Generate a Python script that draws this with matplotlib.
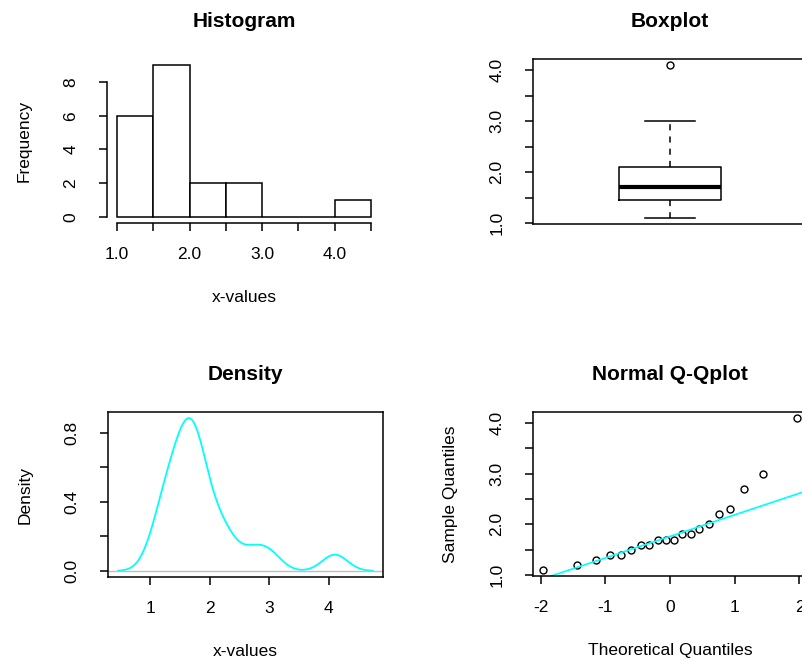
import numpy as np
import matplotlib
matplotlib.use("Agg")
import matplotlib.pyplot as plt
from statistics import NormalDist

x_values = [1.1, 1.2, 1.3, 1.4, 1.4, 1.5, 1.6, 1.6, 1.7, 1.7,
            1.7, 1.8, 1.8, 1.9, 2.0, 2.2, 2.3, 2.7, 3.0, 4.1]

hist_breaks = [1.0, 1.5, 2.0, 2.5, 3.0, 3.5, 4.0, 4.5]
hist_ticklabels = ["1.0", "", "2.0", "", "3.0", "", "4.0", ""]
freq_ticks = [0, 2, 4, 6, 8]
box_ticks = [1.0, 1.5, 2.0, 2.5, 3.0, 3.5, 4.0]
box_ticklabels = ["1.0", "", "2.0", "", "3.0", "", "4.0"]
dens_xticks = [1, 2, 3, 4]
dens_yticks = [0.0, 0.2, 0.4, 0.6, 0.8]
dens_yticklabels = ["0.0", "", "0.4", "", "0.8"]
qq_xticks = [-2, -1, 0, 1, 2]

plt.rcParams['font.family'] = ['Liberation Sans', 'DejaVu Sans']
plt.rcParams['axes.unicode_minus'] = False

W, H = 802, 660
LW = 1.1
CYAN = "#00FFFF"


def r_range(lo, hi):
    # R's default 4% axis expansion
    d = (hi - lo) * 0.04
    return lo - d, hi + d


def fivenum(x):
    x = np.sort(np.asarray(x, float))
    n = len(x)
    n4 = np.floor((n + 3) / 2) / 2
    d = np.array([1, n4, (n + 1) / 2, n + 1 - n4, n])
    return 0.5 * (x[np.floor(d).astype(int) - 1] + x[np.ceil(d).astype(int) - 1])


def r_density(x, n=512):
    x = np.asarray(x, float)
    iqr = np.percentile(x, 75) - np.percentile(x, 25)
    bw = 0.9 * min(x.std(ddof=1), iqr / 1.34) * len(x) ** -0.2
    grid = np.linspace(x.min() - 3 * bw, x.max() + 3 * bw, n)
    z = (grid[:, None] - x[None, :]) / bw
    dens = np.exp(-0.5 * z ** 2).sum(axis=1) / (len(x) * bw * np.sqrt(2 * np.pi))
    return grid, dens


def panel(left, top, right, bottom):
    return fig.add_axes([left / W, 1 - bottom / H, (right - left) / W, (bottom - top) / H])


def r_style(ax):
    for s in ax.spines.values():
        s.set_linewidth(LW)
    ax.tick_params(direction='out', length=5.5, width=LW, labelsize=12.5)
    ax.tick_params(axis='x', pad=12)
    ax.tick_params(axis='y', labelrotation=90, pad=15)


def center_yticklabels(ax):
    plt.setp(ax.get_yticklabels(), va='center')


def r_labels(ax, title, xlabel, ylabel):
    ax.set_title(title, fontweight='bold', fontsize=15, pad=23)
    ax.set_xlabel(xlabel, fontsize=12.5, labelpad=20)
    ax.set_ylabel(ylabel, fontsize=12.5, labelpad=23)


fig = plt.figure(figsize=(W / 100, H / 100), dpi=100)

# ---- Histogram (right-closed bins like R)
ax = panel(107, 59, 381, 223)
r_style(ax)
edges = np.array(hist_breaks)
idx = np.clip(np.searchsorted(edges, x_values, side='left'), 1, len(edges) - 1)
counts = np.bincount(idx - 1, minlength=len(edges) - 1)
ax.bar(edges[:-1], counts, width=np.diff(edges), align='edge',
       facecolor='white', edgecolor='black', linewidth=LW)
ax.set_xlim(*r_range(edges[0], edges[-1]))
ax.set_ylim(*r_range(0, counts.max()))
ax.set_xticks(hist_breaks)
ax.set_xticklabels(hist_ticklabels)
ax.set_yticks(freq_ticks)
ax.spines['top'].set_visible(False)
ax.spines['right'].set_visible(False)
ax.spines['left'].set_bounds(freq_ticks[0], freq_ticks[-1])
ax.spines['bottom'].set_bounds(edges[0], edges[-1])
center_yticklabels(ax)
r_labels(ax, "Histogram", "x-values", "Frequency")

# ---- Boxplot
ax = panel(533, 59, 807, 224)
r_style(ax)
q = fivenum(x_values)
iqr = q[3] - q[1]
xs = np.array(x_values)
inside = xs[(xs >= q[1] - 1.5 * iqr) & (xs <= q[3] + 1.5 * iqr)]
stats = [dict(med=q[2], q1=q[1], q3=q[3], whislo=inside.min(), whishi=inside.max(),
              fliers=xs[(xs < inside.min()) | (xs > inside.max())])]
ax.bxp(stats, positions=[1], widths=0.4, capwidths=0.2, showfliers=True,
       boxprops=dict(color='black', linewidth=LW),
       medianprops=dict(color='black', linewidth=3),
       whiskerprops=dict(color='black', linewidth=LW, linestyle=(0, (4, 4))),
       capprops=dict(color='black', linewidth=LW),
       flierprops=dict(marker='o', markersize=5, markerfacecolor='none',
                       markeredgecolor='black', markeredgewidth=1))
ax.set_xlim(*r_range(0.5, 1.5))
ax.set_ylim(*r_range(xs.min(), xs.max()))
ax.set_xticks([])
ax.set_yticks(box_ticks)
ax.set_yticklabels(box_ticklabels)
center_yticklabels(ax)
ax.set_title("Boxplot", fontweight='bold', fontsize=15, pad=23)

# ---- Density
ax = panel(108, 412, 383, 577)
r_style(ax)
gx, gy = r_density(x_values)
ax.plot(gx, gy, color=CYAN, linewidth=1.3)
ax.axhline(0, color='#BEBEBE', linewidth=1)
ax.set_xlim(*r_range(gx.min(), gx.max()))
ax.set_ylim(*r_range(0, gy.max()))
ax.set_xticks(dens_xticks)
ax.set_yticks(dens_yticks)
ax.set_yticklabels(dens_yticklabels)
center_yticklabels(ax)
r_labels(ax, "Density", "x-values", "Density")

# ---- Normal Q-Q plot
ax = panel(533, 412, 807, 576)
r_style(ax)
n = len(xs)
theo = np.array([NormalDist().inv_cdf((i - 0.5) / n) for i in range(1, n + 1)])
samp = np.sort(xs)
ax.plot(theo, samp, linestyle='none', marker='o', markersize=5,
        markerfacecolor='none', markeredgecolor='black', markeredgewidth=1)
q1, q3 = np.percentile(xs, [25, 75])
z1, z3 = NormalDist().inv_cdf(0.25), NormalDist().inv_cdf(0.75)
slope = (q3 - q1) / (z3 - z1)
ax.axline((z1, q1), slope=slope, color=CYAN, linewidth=1.2)
ax.set_xlim(*r_range(theo.min(), theo.max()))
ax.set_ylim(*r_range(samp.min(), samp.max()))
ax.set_xticks(qq_xticks)
ax.set_yticks(box_ticks)
ax.set_yticklabels(box_ticklabels)
center_yticklabels(ax)
r_labels(ax, "Normal Q-Qplot", "Theoretical Quantiles", "Sample Quantiles")

fig.savefig("out.png", dpi=100)
